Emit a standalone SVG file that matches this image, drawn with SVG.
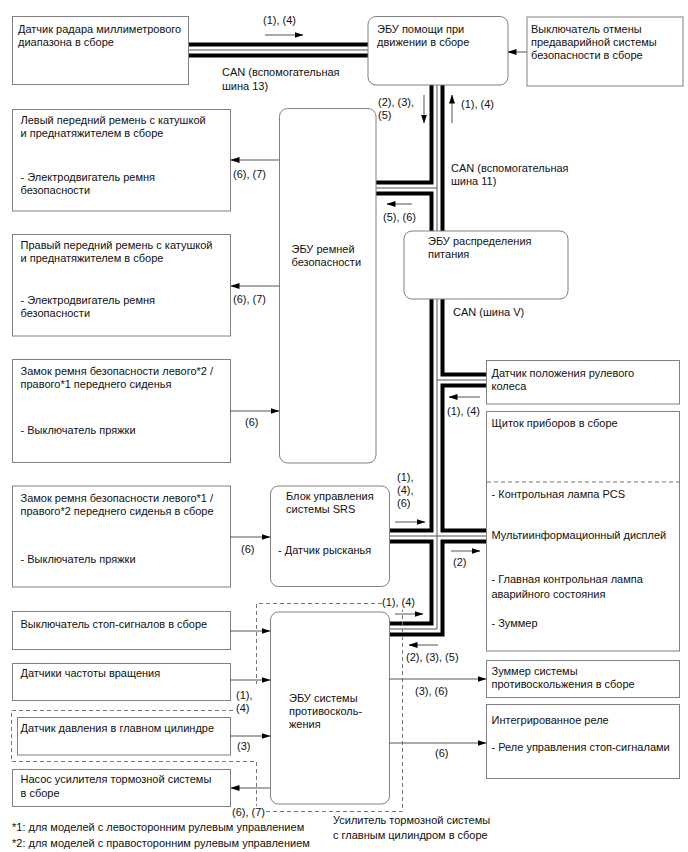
<svg xmlns="http://www.w3.org/2000/svg" width="688" height="852" viewBox="0 0 688 852">
<defs>
<marker id="ah" markerWidth="9" markerHeight="6" refX="8.5" refY="3" orient="auto" markerUnits="userSpaceOnUse">
<path d="M0,0 L9,3 L0,6 z" fill="#000"/>
</marker>
<style>
.box{fill:#fff;stroke:#808080;stroke-width:1}
.t{font-family:"Liberation Sans",Arial,sans-serif;font-size:11px;fill:#111}
.c{stroke:#555;stroke-width:1;fill:none;marker-end:url(#ah)}
.b1{stroke:#000;stroke-width:15;fill:none;stroke-linejoin:miter}
.b2{stroke:#fff;stroke-width:7;fill:none;stroke-linejoin:miter}
.b3{stroke:#555;stroke-width:1;fill:none;stroke-linejoin:miter}
.d{stroke:#777;stroke-width:1;fill:none;stroke-dasharray:4,3}
</style>
</defs>
<rect width="688" height="852" fill="#fff"/>

<g id="bus">
<path class="b1" d="M185 50 H372 M437 80 V629 H385 M372 188 H437 M437 380 H490 M385 536 H490"/>
<path class="b2" d="M185 50 H372 M437 80 V629 H385 M372 188 H437 M437 380 H490 M385 536 H490"/>
<path class="b3" d="M185 50 H372 M437 80 V629 H385 M372 188 H437 M437 380 H490 M385 536 H490"/>
</g>

<g id="radar">
<rect class="box" x="12.5" y="16.5" width="176" height="68"/>
<text class="t" x="18" y="33">Датчик радара миллиметрового</text>
<text class="t" x="18" y="46">диапазона в сборе</text>
</g>
<g id="ecu-assist">
<rect class="box" x="368" y="16.5" width="140" height="68.5" rx="8"/>
<text class="t" x="377" y="33">ЭБУ помощи при</text>
<text class="t" x="377" y="46">движении в сборе</text>
</g>
<g id="cancel-switch">
<rect class="box" x="527" y="17" width="156" height="69"/>
<text class="t" x="531" y="33">Выключатель отмены</text>
<text class="t" x="531" y="46">предаварийной системы</text>
<text class="t" x="531" y="59">безопасности в сборе</text>
</g>
<g id="left-belt">
<rect class="box" x="12.5" y="109.5" width="218" height="101.5"/>
<text class="t" x="20.5" y="124">Левый передний ремень с катушкой</text>
<text class="t" x="20.5" y="137">и преднатяжителем в сборе</text>
<text class="t" x="20.5" y="181">- Электродвигатель ремня</text>
<text class="t" x="20.5" y="194">безопасности</text>
</g>
<g id="right-belt">
<rect class="box" x="12.5" y="234.5" width="218" height="101.5"/>
<text class="t" x="20.5" y="249">Правый передний ремень с катушкой</text>
<text class="t" x="20.5" y="262">и преднатяжителем в сборе</text>
<text class="t" x="20.5" y="304">- Электродвигатель ремня</text>
<text class="t" x="20.5" y="317">безопасности</text>
</g>
<g id="ecu-belt">
<rect class="box" x="279.5" y="108.5" width="96.5" height="354.5" rx="8"/>
<text class="t" x="291.5" y="253">ЭБУ ремней</text>
<text class="t" x="291.5" y="266">безопасности</text>
</g>
<g id="ecu-power">
<rect class="box" x="404" y="231" width="164" height="68" rx="8"/>
<text class="t" x="428" y="245">ЭБУ распределения</text>
<text class="t" x="428" y="258">питания</text>
</g>
<g id="buckle-1">
<rect class="box" x="12.5" y="359.5" width="218" height="103"/>
<text class="t" x="20.5" y="375">Замок ремня безопасности левого*2 /</text>
<text class="t" x="20.5" y="388">правого*1 переднего сиденья</text>
<text class="t" x="20.5" y="434">- Выключатель пряжки</text>
</g>
<g id="steering-sensor">
<rect class="box" x="486.5" y="360.5" width="193" height="43.5"/>
<text class="t" x="491.5" y="376.5">Датчик положения рулевого</text>
<text class="t" x="491.5" y="389.5">колеса</text>
</g>
<g id="cluster">
<rect class="box" x="486.5" y="411.5" width="193" height="239.5"/>
<line class="d" x1="487" y1="482" x2="679" y2="482"/>
<text class="t" x="491.5" y="427">Щиток приборов в сборе</text>
<text class="t" x="491.5" y="498">- Контрольная лампа PCS</text>
<text class="t" x="491.5" y="539">Мультиинформационный дисплей</text>
<text class="t" x="491.5" y="583">- Главная контрольная лампа</text>
<text class="t" x="491.5" y="598">аварийного состояния</text>
<text class="t" x="491.5" y="627">- Зуммер</text>
</g>
<g id="buckle-2">
<rect class="box" x="12.5" y="486" width="218" height="101"/>
<text class="t" x="20.5" y="501.5">Замок ремня безопасности левого*1 /</text>
<text class="t" x="20.5" y="515">правого*2 переднего сиденья в сборе</text>
<text class="t" x="20.5" y="562.5">- Выключатель пряжки</text>
</g>
<g id="srs">
<rect class="box" x="270.5" y="486" width="119" height="100.5" rx="8"/>
<text class="t" x="286" y="500">Блок управления</text>
<text class="t" x="286" y="513">системы SRS</text>
<text class="t" x="278" y="554">- Датчик рысканья</text>
</g>
<g id="stop-switch">
<rect class="box" x="12.5" y="611.5" width="218" height="38"/>
<text class="t" x="20.5" y="628">Выключатель стоп-сигналов в сборе</text>
</g>
<g id="speed-sensors">
<rect class="box" x="12.5" y="663.5" width="218" height="37"/>
<text class="t" x="20.5" y="676.5">Датчики частоты вращения</text>
</g>
<g id="pressure-sensor">
<rect class="box" x="17.5" y="717.5" width="213" height="37.5"/>
<text class="t" x="20.5" y="731.5">Датчик давления в главном цилиндре</text>
</g>
<g id="pump">
<rect class="box" x="12.5" y="769.5" width="218" height="37"/>
<text class="t" x="20.5" y="783">Насос усилителя тормозной системы</text>
<text class="t" x="20.5" y="796.5">в сборе</text>
</g>
<g id="ecu-skid">
<rect class="box" x="270.5" y="612" width="119" height="192" rx="8"/>
<text class="t" x="289" y="701.5">ЭБУ системы</text>
<text class="t" x="289" y="714.5">противосколь-</text>
<text class="t" x="289" y="727.5">жения</text>
</g>
<g id="skid-buzzer">
<rect class="box" x="486.5" y="660.5" width="193" height="37"/>
<text class="t" x="491.5" y="675">Зуммер системы</text>
<text class="t" x="491.5" y="688">противоскольжения в сборе</text>
</g>
<g id="relay">
<rect class="box" x="486.5" y="704.5" width="193" height="74"/>
<text class="t" x="491.5" y="724">Интегрированное реле</text>
<text class="t" x="491.5" y="750.5">- Реле управления стоп-сигналами</text>
</g>

<g id="booster">
<path class="d" d="M382 603.5 H256.5 V684"/>
<path class="d" d="M233 710.5 H11.5 V761.5 H256.5 V806"/>
<path class="d" d="M266 811.5 H402.5 V610"/>
<text class="t" x="333" y="824">Усилитель тормозной системы</text>
<text class="t" x="333" y="839">с главным цилиндром в сборе</text>
</g>

<g id="connectors">
<line class="c" x1="265" y1="35" x2="303" y2="35"/>
<line class="c" x1="527" y1="52" x2="508" y2="52"/>
<line class="c" x1="424" y1="95" x2="424" y2="123"/>
<line class="c" x1="452" y1="123" x2="452" y2="95"/>
<line class="c" x1="279" y1="160" x2="231" y2="160"/>
<line class="c" x1="279" y1="286" x2="231" y2="286"/>
<line class="c" x1="412" y1="204" x2="387" y2="204"/>
<line class="c" x1="480" y1="397" x2="449" y2="397"/>
<line class="c" x1="230" y1="411" x2="279" y2="411"/>
<line class="c" x1="395" y1="522" x2="425" y2="522"/>
<line class="c" x1="230" y1="537" x2="270" y2="537"/>
<line class="c" x1="451" y1="551" x2="480" y2="551"/>
<line class="c" x1="230" y1="631" x2="270" y2="631"/>
<line class="c" x1="230" y1="680" x2="270" y2="680"/>
<line class="c" x1="230" y1="736" x2="270" y2="736"/>
<line class="c" x1="270" y1="788" x2="231" y2="788"/>
<line class="c" x1="395" y1="614" x2="423" y2="614"/>
<line class="c" x1="438" y1="645" x2="409" y2="645"/>
<line class="c" x1="389" y1="679" x2="486" y2="679"/>
<line class="c" x1="389" y1="743" x2="486" y2="743"/>
</g>

<g id="labels">
<text class="t" x="263" y="24">(1), (4)</text>
<text class="t" x="222" y="76">CAN (вспомогательная</text>
<text class="t" x="222" y="90">шина 13)</text>
<text class="t" x="378" y="106">(2), (3),</text>
<text class="t" x="378" y="119">(5)</text>
<text class="t" x="461" y="108">(1), (4)</text>
<text class="t" x="451" y="172">CAN (вспомогательная</text>
<text class="t" x="451" y="185">шина 11)</text>
<text class="t" x="233" y="178">(6), (7)</text>
<text class="t" x="383" y="221">(5), (6)</text>
<text class="t" x="233" y="303">(6), (7)</text>
<text class="t" x="453" y="316">CAN (шина V)</text>
<text class="t" x="447" y="415">(1), (4)</text>
<text class="t" x="245" y="426">(6)</text>
<text class="t" x="397" y="481">(1),</text>
<text class="t" x="397" y="494">(4),</text>
<text class="t" x="397" y="507">(6)</text>
<text class="t" x="241" y="553">(6)</text>
<text class="t" x="453" y="566">(2)</text>
<text class="t" x="382" y="606">(1), (4)</text>
<text class="t" x="406" y="661">(2), (3), (5)</text>
<text class="t" x="415" y="695">(3), (6)</text>
<text class="t" x="236" y="699">(1),</text>
<text class="t" x="236" y="712">(4)</text>
<text class="t" x="237" y="750">(3)</text>
<text class="t" x="435" y="757">(6)</text>
<text class="t" x="232" y="816">(6), (7)</text>
<text class="t" x="12" y="831">*1: для моделей с левосторонним рулевым управлением</text>
<text class="t" x="12" y="847">*2: для моделей с правосторонним рулевым управлением</text>
</g>
</svg>
